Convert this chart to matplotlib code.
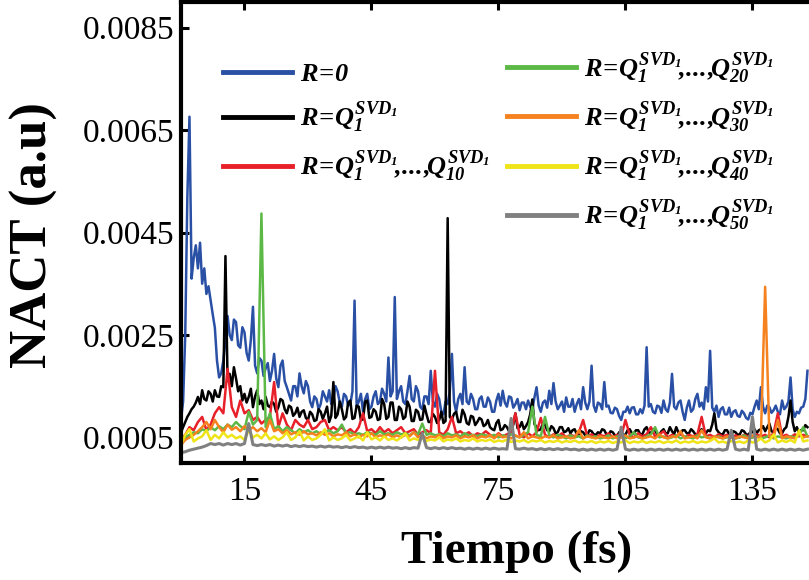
import numpy as np
import matplotlib
matplotlib.use("Agg")
import matplotlib.pyplot as plt

# --- fonts: Times-like serif, bold italic math for the legend ---
plt.rcParams['font.family'] = 'Liberation Serif'
plt.rcParams['mathtext.fontset'] = 'custom'
plt.rcParams['mathtext.it'] = 'Liberation Serif:italic:bold'
plt.rcParams['mathtext.rm'] = 'Liberation Serif:italic:bold'
plt.rcParams['mathtext.bf'] = 'Liberation Serif:italic:bold'
plt.rcParams['mathtext.default'] = 'it'

# --- data: NACT values, units of 1e-5 a.u. ---
# R=0 and R=Q1 every 0.5 fs, the rest every 1 fs
t_half = np.arange(297) * 0.5
t_full = np.arange(149)

r_0 = [85, 120, 250, 520, 676, 360, 400, 425, 380, 430,
       350, 380, 330, 345, 317, 290, 264, 200, 167, 175,
       200, 240, 287, 250, 240, 280, 275, 230, 225, 265,
       255, 215, 200, 240, 305, 190, 175, 205, 200, 170,
       185, 195, 160, 180, 213, 165, 148, 190, 200, 160,
       148, 135, 122, 150, 150, 130, 175, 150, 136, 160,
       150, 120, 109, 130, 125, 105, 115, 140, 130, 120,
       142, 115, 125, 150, 140, 118, 110, 135, 130, 112,
       115, 140, 317, 110, 120, 135, 100, 125, 135, 105,
       110, 130, 140, 115, 120, 145, 135, 120, 206, 130,
       140, 324, 125, 140, 150, 120, 115, 140, 170, 125,
       120, 150, 140, 110, 105, 130, 130, 115, 180, 120,
       110, 135, 125, 100, 95, 120, 115, 140, 213, 120,
       100, 125, 135, 115, 187, 120, 115, 135, 125, 105,
       105, 125, 130, 110, 110, 128, 120, 100, 100, 122,
       135, 112, 141, 118, 110, 130, 128, 108, 115, 125,
       103, 118, 118, 105, 122, 110, 105, 128, 148, 112,
       100, 118, 122, 108, 141, 115, 156, 120, 105, 112,
       120, 100, 128, 110, 110, 125, 100, 115, 125, 105,
       148, 118, 105, 120, 190, 112, 100, 118, 115, 105,
       158, 110, 112, 98, 97, 108, 105, 92, 84, 100,
       100, 110, 97, 108, 109, 95, 95, 105, 97, 112,
       226, 110, 115, 100, 97, 112, 110, 98, 122, 105,
       100, 118, 174, 110, 105, 118, 122, 100, 84, 108,
       122, 100, 105, 125, 135, 110, 118, 105, 148, 120,
       219, 108, 100, 112, 90, 105, 109, 95, 95, 108,
       90, 100, 103, 92, 90, 102, 97, 88, 85, 98,
       95, 110, 122, 105, 148, 110, 97, 112, 109, 98,
       103, 112, 100, 95, 122, 105, 110, 120, 167, 105,
       90, 100, 97, 108, 110, 125, 180]

r_q1 = [60, 70, 80, 90, 97, 105, 110, 118, 129, 115,
        142, 125, 122, 140, 135, 120, 142, 130, 129, 150,
        148, 404, 160, 174, 150, 187, 165, 140, 150, 122,
        135, 118, 129, 145, 109, 130, 142, 115, 122, 105,
        129, 112, 109, 120, 115, 100, 109, 125, 122, 105,
        97, 112, 109, 92, 97, 108, 90, 100, 103, 88,
        84, 100, 95, 82, 84, 105, 100, 86, 97, 110,
        80, 92, 158, 88, 95, 120, 105, 85, 90, 118,
        122, 86, 88, 112, 110, 84, 85, 120, 122, 88,
        90, 105, 100, 84, 86, 125, 115, 86, 90, 118,
        118, 84, 84, 110, 105, 86, 90, 120, 110, 82,
        82, 104, 100, 84, 85, 112, 95, 80, 80, 96,
        90, 78, 84, 100, 78, 82, 478, 90, 85, 96,
        100, 80, 80, 104, 95, 78, 75, 92, 90, 74,
        80, 88, 85, 72, 75, 84, 70, 66, 64, 78,
        84, 64, 66, 74, 70, 62, 64, 75, 97, 68,
        70, 80, 66, 72, 80, 95, 124, 76, 70, 64,
        66, 78, 75, 64, 62, 72, 68, 58, 60, 70,
        70, 60, 62, 68, 58, 64, 66, 56, 56, 62,
        60, 54, 55, 64, 62, 56, 55, 60, 58, 66,
        64, 56, 55, 62, 60, 54, 52, 60, 62, 55,
        55, 64, 66, 58, 58, 64, 64, 56, 56, 66,
        70, 60, 58, 66, 64, 56, 55, 62, 66, 58,
        58, 70, 62, 56, 70, 60, 56, 64, 64, 58,
        58, 66, 62, 56, 55, 62, 66, 58, 58, 64,
        62, 75, 97, 66, 60, 56, 56, 64, 64, 56,
        55, 62, 60, 55, 56, 64, 62, 56, 55, 60,
        60, 66, 58, 64, 66, 72, 62, 70, 77, 62,
        60, 68, 66, 58, 58, 66, 70, 90, 122, 80,
        62, 70, 58, 64, 64, 74, 70]

r_q10 = [45, 55, 70, 64, 80, 90, 64, 75, 97, 109,
         97, 184, 109, 90, 122, 97, 103, 84, 90, 77,
         84, 90, 158, 70, 97, 75, 64, 84, 75, 70,
         84, 66, 70, 80, 84, 64, 70, 64, 70, 60,
         66, 58, 70, 97, 62, 66, 58, 70, 60, 66,
         58, 64, 70, 58, 62, 66, 55, 60, 64, 58,
         180, 60, 55, 66, 90, 58, 62, 55, 60, 52,
         58, 55, 62, 55, 50, 58, 52, 56, 60, 97,
         55, 50, 58, 52, 60, 88, 55, 50, 56, 52,
         58, 50, 55, 52, 60, 84, 52, 56, 50, 55,
         52, 58, 50, 55, 52, 84, 55, 50, 58, 52,
         56, 70, 52, 56, 62, 50, 55, 52, 58, 50,
         55, 52, 56, 90, 52, 55, 50, 56, 52, 55,
         50, 54, 50, 55, 52, 50, 56, 52, 55, 50,
         58, 97, 52, 55, 50, 56, 52, 55, 52]

r_q20 = [40, 50, 55, 60, 58, 66, 62, 70, 64, 72,
         66, 75, 70, 80, 72, 66, 100, 75, 84, 487,
         70, 97, 66, 72, 62, 70, 64, 58, 66, 60,
         64, 58, 62, 56, 60, 64, 58, 62, 75, 58,
         60, 56, 58, 55, 60, 58, 55, 62, 56, 58,
         55, 60, 56, 58, 54, 60, 56, 77, 55, 58,
         54, 56, 52, 58, 54, 56, 52, 58, 54, 55,
         52, 56, 54, 52, 55, 50, 54, 52, 56, 53,
         50, 55, 60, 110, 55, 52, 90, 54, 50, 55,
         52, 48, 54, 50, 52, 48, 54, 50, 52, 48,
         50, 54, 48, 52, 50, 48, 52, 60, 50, 48,
         52, 56, 70, 50, 52, 48, 50, 54, 48, 52,
         50, 48, 54, 50, 52, 48, 50, 52, 48, 50,
         52, 48, 50, 54, 48, 50, 52, 48, 50, 54,
         48, 52, 50, 48, 52, 50, 54, 70, 52]

r_q30 = [35, 45, 50, 55, 62, 70, 80, 66, 84, 70,
         60, 75, 65, 70, 62, 72, 64, 70, 62, 68,
         60, 84, 62, 66, 58, 64, 56, 60, 55, 62,
         56, 58, 54, 60, 55, 58, 52, 56, 54, 60,
         52, 56, 50, 55, 52, 58, 50, 54, 52, 56,
         50, 54, 50, 55, 52, 60, 50, 54, 48, 52,
         50, 55, 48, 52, 50, 54, 48, 52, 50, 54,
         48, 52, 50, 54, 48, 56, 50, 52, 48, 54,
         50, 60, 48, 52, 50, 48, 52, 50, 54, 48,
         50, 52, 48, 50, 64, 48, 52, 50, 48, 52,
         50, 48, 52, 48, 50, 54, 48, 50, 52, 48,
         50, 52, 48, 56, 50, 48, 52, 50, 62, 48,
         50, 52, 48, 64, 50, 48, 52, 50, 48, 52,
         50, 48, 52, 50, 48, 54, 50, 52, 344, 52,
         50, 84, 48, 52, 50, 48, 56, 50, 52]

r_q40 = [35, 55, 66, 42, 48, 52, 64, 45, 55, 48,
         60, 50, 55, 48, 52, 45, 64, 50, 55, 48,
         58, 46, 52, 45, 50, 60, 45, 50, 62, 44,
         52, 45, 48, 55, 66, 44, 50, 45, 48, 55,
         44, 48, 52, 44, 60, 46, 50, 44, 52, 45,
         48, 44, 50, 58, 44, 48, 45, 50, 43, 46,
         44, 50, 42, 46, 44, 48, 42, 45, 43, 48,
         42, 45, 43, 46, 41, 44, 42, 46, 41, 44,
         42, 45, 40, 44, 42, 45, 40, 43, 41, 44,
         40, 43, 41, 44, 40, 42, 40, 43, 39, 42,
         40, 43, 39, 42, 40, 44, 39, 42, 40, 43,
         39, 42, 40, 43, 39, 42, 40, 44, 39, 42,
         40, 43, 39, 42, 40, 43, 48, 40, 42, 39,
         43, 40, 42, 39, 44, 40, 42, 48, 40, 44,
         56, 40, 44, 41, 45, 40, 64, 42, 44]

r_q50 = [20, 22, 25, 27, 29, 31, 34, 38, 36, 38,
         35, 38, 36, 38, 35, 38, 77, 36, 34, 36,
         34, 36, 33, 35, 33, 35, 32, 34, 32, 34,
         32, 33, 31, 33, 31, 33, 31, 32, 30, 32,
         30, 32, 30, 31, 29, 31, 29, 31, 29, 31,
         29, 30, 28, 30, 28, 30, 29, 58, 30, 28,
         30, 28, 30, 28, 30, 28, 29, 27, 29, 27,
         29, 27, 29, 27, 29, 27, 28, 27, 87, 28,
         27, 29, 27, 28, 26, 28, 26, 28, 26, 28,
         26, 28, 26, 27, 25, 27, 25, 27, 25, 27,
         25, 27, 25, 27, 70, 27, 25, 27, 25, 27,
         25, 27, 25, 27, 25, 27, 25, 27, 25, 27,
         25, 27, 25, 27, 25, 27, 25, 27, 25, 27,
         64, 27, 25, 27, 25, 90, 27, 25, 27, 25,
         27, 25, 27, 25, 27, 25, 27, 25, 27]

series = [r_0, r_q1, r_q10, r_q20, r_q30, r_q40, r_q50]
labels = [r'$R\!=\!0$',
          r'$R\!=\!Q_1^{SVD_1}$',
          r'$R\!=\!Q_1^{SVD_1}\!{,}.\!.\!.\!{,}\!Q_{10}^{SVD_1}$',
          r'$R\!=\!Q_1^{SVD_1}\!{,}.\!.\!.\!{,}\!Q_{20}^{SVD_1}$',
          r'$R\!=\!Q_1^{SVD_1}\!{,}.\!.\!.\!{,}\!Q_{30}^{SVD_1}$',
          r'$R\!=\!Q_1^{SVD_1}\!{,}.\!.\!.\!{,}\!Q_{40}^{SVD_1}$',
          r'$R\!=\!Q_1^{SVD_1}\!{,}.\!.\!.\!{,}\!Q_{50}^{SVD_1}$']
colors = ['#2A50A6', '#000000', '#E8202A', '#5CB946', '#F5821F', '#EEE417', '#808080']
x_ticks = [15, 45, 75, 105, 135]
y_ticks = [0.0005, 0.0025, 0.0045, 0.0065, 0.0085]

# --- figure, axes placed to match the cropped original ---
fig = plt.figure(figsize=(8.09, 5.80), dpi=100)
ax = fig.add_axes([181/809, 117/580, 631/809, 461/580])

handles = []
for vals, lab, col in zip(series, labels, colors):
    t = t_half if len(vals) == len(t_half) else t_full
    lw = 2.2 if col == '#808080' else 1.8
    h, = ax.plot(t, np.array(vals) * 1e-5, color=col, lw=lw, label=lab)
    handles.append(h)

ax.set_xlim(0, 149.07)
ax.set_ylim(0, 0.009)
ax.set_xticks(x_ticks)
ax.set_yticks(y_ticks)
ax.set_yticklabels(['%.4f' % v for v in y_ticks])

for side in ['left', 'bottom', 'top']:
    ax.spines[side].set_linewidth(3)
ax.spines['right'].set_visible(False)
ax.tick_params(direction='in', length=6, width=2.2, labelsize=24, top=True, right=False)
ax.tick_params(axis='x', pad=10)
ax.tick_params(axis='y', pad=5)

fig.text(517/809, 1 - 563/580, 'Tiempo (fs)', fontsize=34, fontweight='bold',
         ha='center', va='baseline')
fig.text(34/809, 1 - 235/580, 'NACT (a.u)', fontsize=38, fontweight='bold',
         rotation=90, ha='center', va='center')

# legend in two columns, 3 + 4 entries
leg_kw = dict(frameon=False, fontsize=19, handlelength=2.6, handletextpad=0.32,
              labelspacing=0.5, borderpad=0, borderaxespad=0,
              loc='upper left', bbox_transform=fig.transFigure)
leg1 = ax.legend(handles[:3], labels[:3], bbox_to_anchor=(223/809, 1 - 63/580), **leg_kw)
ax.add_artist(leg1)
leg2 = ax.legend(handles[3:], labels[3:], bbox_to_anchor=(507/809, 1 - 50/580), **leg_kw)
for lg in [leg1, leg2]:
    for ln in lg.get_lines():
        ln.set_linewidth(3.5)

fig.savefig('out.png', dpi=100)
